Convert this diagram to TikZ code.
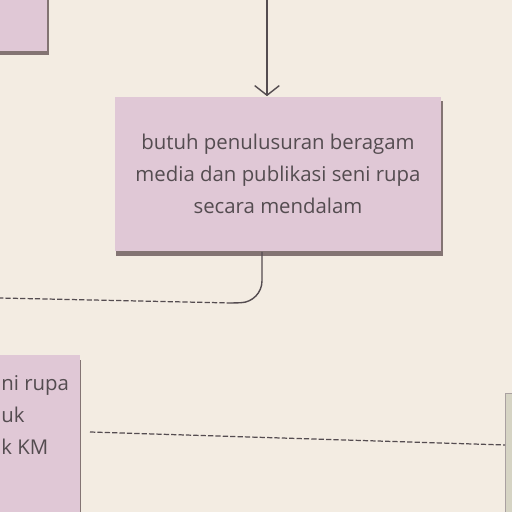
\documentclass[tikz,border=0pt]{standalone}
\usepackage{fontspec}
\setmainfont{Open Sans}
\usetikzlibrary{arrows.meta,shadows,calc,positioning}
\definecolor{wall}{RGB}{243,236,226}
\definecolor{notepink}{RGB}{224,200,214}
\definecolor{notegrey}{RGB}{214,212,196}
\definecolor{inkgrey}{RGB}{84,76,80}
\definecolor{edgebrown}{RGB}{112,96,96}
\tikzset{
  note/.style={fill=notepink, inner sep=0pt,
    drop shadow={shadow xshift=0.6pt, shadow yshift=-2.6pt, fill=edgebrown, opacity=0.85}},
  notetext/.style={text=inkgrey, font=\fontsize{11.6}{18.2}\selectfont, align=center},
  wire/.style={draw=inkgrey, line width=0.8pt},
  dashwire/.style={wire, line width=0.7pt, dash pattern=on 3pt off 1.2pt}
}
\begin{document}
\begin{tikzpicture}[x=0.02cm, y=-0.02cm]
	\useasboundingbox (0,0) rectangle (512,512);
	\clip (0,0) rectangle (512,512);
	\fill[wall] (0,0) rectangle (512,512);
	% notes
	\node[note, minimum width=1.3cm, minimum height=1.3cm] (topnote) at (15,18) {};
	\node[note, minimum width=6.54cm, minimum height=3.1cm, notetext] (main) at (278,174)
		{butuh penulusuran beragam\\media dan publikasi seni rupa\\secara mendalam};
	\node[note, minimum width=2cm, minimum height=3.4cm] (lownote) at (30,440) {};
	\node[notetext, align=left, anchor=west, inner sep=0pt] (lowtext) at (1,415) {ni rupa\\uk\\k KM};
	\node[fill=notegrey, draw=edgebrown!60, minimum width=0.3cm, minimum height=2.6cm] (rightnote) at (513,458) {};
	% connectors
	\coordinate (topin) at (267,-5);
	\draw[wire, -{Straight Barb[length=5.5pt, width=14pt]}] (topin) -- (topin |- main.north);
	\coordinate (knee) at (262,302);
	\coordinate (dashstart) at (232,303);
	\coordinate (leftend) at (0,298);
	\draw[wire, rounded corners=12] (main.south -| knee) -- (knee) -- (dashstart);
	\draw[dashwire] (dashstart) -- (leftend);
	\coordinate (lowstart) at (90,432);
	\draw[dashwire] (lowstart) -- (rightnote.west |- 0,445);
\end{tikzpicture}
\end{document}
